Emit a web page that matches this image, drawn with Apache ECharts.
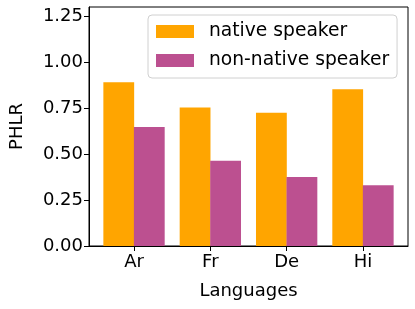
<!DOCTYPE html>
<html>
<head>
<meta charset="utf-8">
<script src="https://cdn.jsdelivr.net/npm/echarts@6/dist/echarts.min.js"></script>
<style>html,body{margin:0;padding:0;background:#fff}#c{width:415px;height:309px}</style>
</head>
<body>
<div id="c"></div>
<script>
const categories = ['Ar', 'Fr', 'De', 'Hi'];
const nativeSpeaker = [0.891, 0.754, 0.725, 0.853];
const nonNativeSpeaker = [0.647, 0.464, 0.375, 0.330];
const yTicks = [0, 0.25, 0.5, 0.75, 1.0, 1.25];
const seriesNames = ['native speaker', 'non-native speaker'];
const colors = ['#FFA500', '#BC5090'];

const FONT = 'DejaVu Sans';
const barOffset = 0.2;
const xPositions = categories.map((_, i) => i);

const chart = echarts.init(document.getElementById('c'), null, {renderer: 'canvas'});
chart.setOption({
  animation: false,
  backgroundColor: '#fff',
  textStyle: {fontFamily: FONT, color: '#000'},
  grid: {left: 86, right: 7, top: 7, bottom: 63, show: true, borderColor: '#000', borderWidth: 1, backgroundColor: 'transparent'},
  legend: {
    orient: 'vertical', left: 148, top: 15,
    itemWidth: 38, itemHeight: 13, itemGap: 10,
    padding: [7, 8, 8, 8],
    borderColor: '#d0d0d0', borderWidth: 1, borderRadius: 4,
    backgroundColor: 'rgba(255,255,255,0.8)',
    icon: 'rect',
    textStyle: {fontFamily: FONT, fontSize: 18.7, color: '#000', padding: [0, 0, 0, 10]},
    data: seriesNames
  },
  xAxis: {
    type: 'value', min: -0.59, max: 3.59,
    splitLine: {show: false},
    axisLine: {show: true, onZero: false, lineStyle: {color: '#000', width: 1}},
    axisTick: {show: true, inside: false, length: 5, customValues: xPositions, lineStyle: {color: '#000'}},
    axisLabel: {customValues: xPositions, formatter: v => categories[Math.round(v)] || '', fontFamily: FONT, fontSize: 18, color: '#000', margin: 7},
    name: 'Languages', nameLocation: 'middle', nameGap: 36,
    nameTextStyle: {fontFamily: FONT, fontSize: 18, color: '#000'}
  },
  yAxis: {
    type: 'value', min: 0, max: 1.3,
    splitLine: {show: false},
    axisLine: {show: true, onZero: false, lineStyle: {color: '#000', width: 1}},
    axisTick: {show: true, inside: false, length: 5, customValues: yTicks, lineStyle: {color: '#000'}},
    axisLabel: {customValues: yTicks, formatter: v => v.toFixed(2), fontFamily: FONT, fontSize: 18, color: '#000', margin: 6},
    name: 'PHLR', nameLocation: 'middle', nameGap: 63,
    nameTextStyle: {fontFamily: FONT, fontSize: 18, color: '#000'}
  },
  series: [
    {
      name: seriesNames[0], type: 'bar', barWidth: 30.8, barGap: '-100%',
      itemStyle: {color: colors[0]},
      data: nativeSpeaker.map((v, i) => [xPositions[i] - barOffset, v])
    },
    {
      name: seriesNames[1], type: 'bar', barWidth: 30.8, barGap: '-100%',
      itemStyle: {color: colors[1]},
      data: nonNativeSpeaker.map((v, i) => [xPositions[i] + barOffset, v])
    }
  ]
});
</script>
</body>
</html>
